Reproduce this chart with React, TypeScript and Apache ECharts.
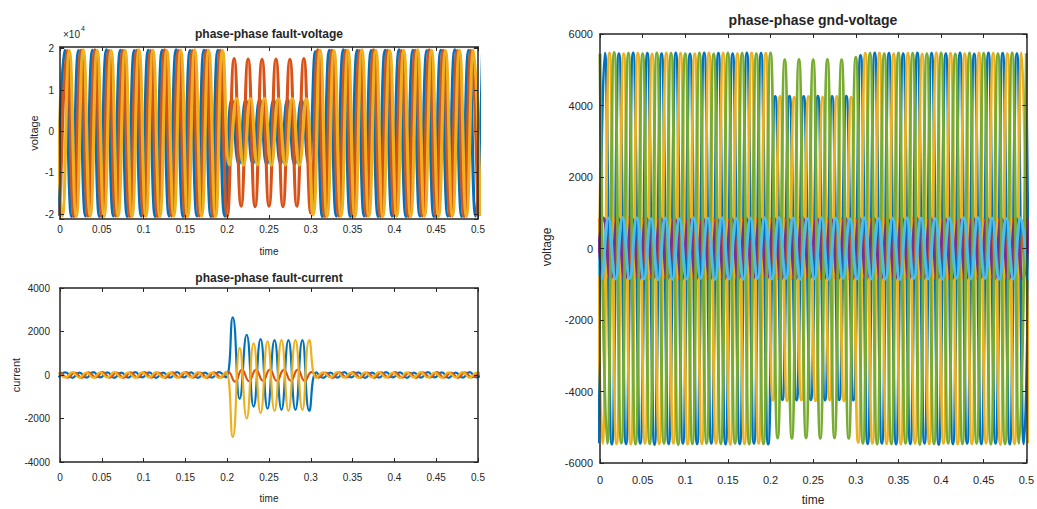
import React, { useEffect, useRef } from 'react';
import * as echarts from 'echarts';

// 60 Hz waveforms: successive peaks/troughs are half a period apart.
const PEAK_SPACING = 1 / 120;

const FONT = '"Liberation Sans", Arial, Helvetica, sans-serif';
const INK = '#262626';
const C = {
  blue: '#0072BD',
  orange: '#D95319',
  yellow: '#EDB120',
  purple: '#7E2F8E',
  green: '#77AC30',
  cyan: '#4DBEEE',
};

// ---- phase-phase fault-voltage (V), peak values per half cycle ----
const faultVoltageA_start = 0;
const faultVoltageA = [
  -20300, 19500, -20600, 19600, -20500, 19700, -20600, 19500, -20500, 19600, -20600, 19600,
  -20500, 19500, -20600, 19700, -20500, 19600, -20600, 19500, -20500, 19600, -20600, 19600,
  -20500,
  17600, -18100, 17500, -18200, 17400, -18100, 17500, -18200, 17400, -18100, 17600,
  -19800,
  19700, -20600, 19600, -20500, 19600, -20600, 19500, -20500, 19700, -20600, 19600, -20500,
  19500, -20600, 19600, -20500, 19700, -20600, 19600, -20500, 19500, -20600, 19600, -20500,
];
const faultVoltageB_start = -0.00278;
const faultVoltageB = [
  -20400, 19600, -20600, 19500, -20500, 19600, -20600, 19700, -20500, 19600, -20600, 19500,
  -20500, 19600, -20600, 19600, -20500, 19700, -20600, 19500, -20500, 19600, -20600, 19600,
  -20500,
  7600, -7900, 7500, -7800, 7600, -7900, 7500, -7800, 7600, -7900, 7500, -7800,
  19200, -20600, 19600, -20500, 19700, -20600, 19600, -20500, 19500, -20600, 19600, -20500,
  19700, -20600, 19600, -20500, 19500, -20600, 19600, -20500, 19700, -20600, 19600, -20500,
  19600,
];
const faultVoltageC_start = -0.00556;
const faultVoltageC = [
  19600, -20500, 19500, -20600, 19700, -20500, 19600, -20600, 19500, -20500, 19600, -20600,
  19700, -20500, 19600, -20600, 19500, -20500, 19600, -20600, 19700, -20500, 19600, -20600,
  19500,
  -8100, 8000, -8200, 7900, -8100, 8000, -8200, 7900, -8100, 8000, -8200, 7900,
  -20200, 19600, -20600, 19500, -20500, 19600, -20600, 19700, -20500, 19600, -20600, 19500,
  -20500, 19600, -20600, 19700, -20500, 19600, -20600, 19500, -20500, 19600, -20600, 19700,
  -20500,
];

// ---- phase-phase fault-current (A) ----
const faultCurrentB_start = -0.00173;
const faultCurrentB = [
  -110, 120, -130, 110, -120, 130, -110, 120, -130, 110, -120, 130,
  -110, 120, -130, 110, -120, 130, -110, 120, -130, 110, -120, 130,
  -110,
  2650, -1100, 1850, -1450, 1650, -1550, 1600, -1600, 1600, -1600, 1600, -1650,
  120, -130, 110, -120, 130, -110, 120, -130, 110, -120, 130, -110,
  120, -130, 110, -120, 130, -110, 120, -130, 110, -120, 130, -110,
  120,
];
const faultCurrentA_start = 0.001;
const faultCurrentA = [
  130, -120, 110, -130, 120, -110, 130, -120, 110, -130, 120, -110,
  130, -120, 110, -130, 120, -110, 130, -120, 110, -130, 120, -110,
  150,
  -300, 250, -280, 240, -260, 250, -270, 240, -260, 250, -270,
  130,
  -120, 110, -130, 120, -110, 130, -120, 110, -130, 120, -110, 130,
  -120, 110, -130, 120, -110, 130, -120, 110, -130, 120, -110, 130,
];
const faultCurrentC_start = -0.00173;
const faultCurrentC = [
  120, -110, 130, -120, 110, -130, 120, -110, 130, -120, 110, -130,
  120, -110, 130, -120, 110, -130, 120, -110, 130, -120, 110, -130,
  150,
  -2850, 1250, -2000, 1450, -1750, 1550, -1650, 1600, -1650, 1600, -1600, 1600,
  -130, 120, -110, 130, -120, 110, -130, 120, -110, 130, -120, 110,
  -130, 120, -110, 130, -120, 110, -130, 120, -110, 130, -120, 110,
  -130,
];

// ---- phase-phase gnd-voltage (V) ----
const gndVoltageA_start = 0;
const gndVoltageA = [
  5450, -5450, 5480, -5440, 5460, -5470, 5450, -5460, 5470, -5450, 5460, -5480,
  5450, -5460, 5470, -5450, 5440, -5460, 5470, -5450, 5460, -5470, 5450, -5460,
  5470,
  -5300, 5280, -5310, 5290, -5300, 5280, -5310, 5290, -5300, 5280, -5310,
  5350,
  -5450, 5460, -5470, 5450, -5460, 5470, -5450, 5460, -5480, 5450, -5460, 5470,
  -5450, 5440, -5460, 5470, -5450, 5460, -5470, 5450, -5460, 5470, -5450, 5460,
];
const gndVoltageB_start = -0.00278;
const gndVoltageB = [
  -5450, 5460, -5470, 5450, -5460, 5470, -5450, 5460, -5480, 5450, -5460, 5470,
  -5450, 5440, -5460, 5470, -5450, 5460, -5470, 5450, -5460, 5470, -5450, 5460,
  -5470,
  4250, -4230, 4260, -4240, 4250, -4230, 4260, -4240, 4250, -4230, 4260, -4240,
  5400, -5460, 5470, -5450, 5460, -5470, 5450, -5460, 5470, -5450, 5460, -5480,
  5450, -5460, 5470, -5450, 5440, -5460, 5470, -5450, 5460, -5470, 5450, -5460,
  5470,
];
const gndVoltageC_start = -0.00556;
const gndVoltageC = [
  5460, -5450, 5470, -5460, 5450, -5470, 5460, -5450, 5440, -5460, 5470, -5450,
  5460, -5470, 5450, -5460, 5470, -5450, 5460, -5480, 5450, -5460, 5470, -5450,
  5460,
  -4240, 4250, -4260, 4230, -4240, 4250, -4260, 4230, -4240, 4250, -4260, 4230,
  -5420, 5460, -5450, 5470, -5460, 5450, -5470, 5460, -5450, 5440, -5460, 5470,
  -5450, 5460, -5470, 5450, -5460, 5470, -5450, 5460, -5480, 5450, -5460, 5470,
  -5450,
];
const gndNeutralA_start = -0.0014;
const gndNeutralA = [
  850, -840, 860, -850, 870, -830, 850, -860, 840, -850, 860, -870, 850, -840, 830, -850,
  860, -850, 840, -860, 850, -870, 860, -840, 850, -850, 840, -860, 850, -830, 860, -850,
  870, -840, 850, -860, 840, -850, 860, -870, 850, -840, 830, -850, 860, -850, 840, -860,
  850, -870, 860, -840, 850, -850, 840, -860, 850, -830, 860, -850, 870, -840,
];
const gndNeutralB_start = -0.0042;
const gndNeutralB = [
  -860, 850, -840, 870, -850, 840, -860, 850, -830, 860, -850, 840, -870, 850, -860, 840,
  -850, 830, -860, 850, -840, 870, -850, 860, -840, 850, -860, 840, -850, 870, -830, 850,
  -860, 840, -850, 860, -870, 850, -840, 860, -850, 830, -860, 850, -840, 870, -850, 860,
  -840, 850, -860, 840, -850, 870, -830, 850, -860, 840, -850, 860, -870, 850,
];
const gndNeutralC_start = -0.0069;
const gndNeutralC = [
  840, -860, 850, -850, 870, -840, 860, -850, 840, -870, 850, -860, 830, -850, 860, -840,
  850, -870, 860, -850, 840, -860, 850, -830, 860, -850, 870, -840, 850, -860, 840, -850,
  860, -870, 850, -840, 830, -850, 860, -850, 840, -860, 850, -870, 860, -840, 850, -850,
  840, -860, 850, -830, 860, -850, 870, -840, 850, -860, 840, -850, 860, -870,
];

function peakSeries(start: number, values: number[]): [number, number][] {
  return values.map((v, k) => [start + k * PEAK_SPACING, v]);
}

function xAxes(gridIndex: number, fontSize: number, margin: number) {
  const common = {
    type: 'value',
    gridIndex,
    min: 0,
    max: 0.5,
    interval: 0.05,
    splitLine: { show: false },
    axisLine: { show: true, onZero: false, lineStyle: { color: INK, width: 1.5 } },
    axisTick: { show: true, inside: true, length: 4, lineStyle: { color: INK, width: 1 } },
    z: 10,
  };
  return [
    {
      ...common,
      position: 'bottom',
      axisLabel: { show: true, fontSize, color: INK, fontFamily: FONT, margin },
    },
    { ...common, position: 'top', axisLabel: { show: false } },
  ];
}

function yAxes(
  gridIndex: number,
  min: number,
  max: number,
  interval: number | undefined,
  fontSize: number,
  margin: number,
  formatter: (v: number) => string,
) {
  const common: any = {
    type: 'value',
    gridIndex,
    min,
    max,
    splitNumber: 4,
    splitLine: { show: false },
    axisLine: { show: true, onZero: false, lineStyle: { color: INK, width: 1.5 } },
    axisTick: { show: true, inside: true, length: 4, lineStyle: { color: INK, width: 1 } },
    z: 10,
  };
  if (interval !== undefined) common.interval = interval;
  return [
    {
      ...common,
      position: 'left',
      axisLabel: { show: true, fontSize, color: INK, fontFamily: FONT, margin, formatter },
    },
    { ...common, position: 'right', axisLabel: { show: false } },
  ];
}

function line(
  xAxisIndex: number,
  yAxisIndex: number,
  color: string,
  width: number,
  data: [number, number][],
) {
  return {
    type: 'line',
    xAxisIndex,
    yAxisIndex,
    data,
    smooth: true,
    symbol: 'none',
    showSymbol: false,
    silent: true,
    clip: true,
    lineStyle: { color, width },
    itemStyle: { color },
  };
}

function text(
  content: string,
  x: number,
  y: number,
  size: number,
  weight = 'normal',
  rotation = 0,
  align = 'center',
) {
  return {
    type: 'text',
    x,
    y,
    rotation,
    silent: true,
    style: {
      text: content,
      fill: INK,
      font: `${weight} ${size}px ${FONT}`,
      textAlign: align,
      align,
      textVerticalAlign: 'middle',
      verticalAlign: 'middle',
    },
  };
}

export default function App() {
  const ref = useRef<HTMLDivElement>(null);

  useEffect(() => {
    if (!ref.current) return;
    const chart = echarts.init(ref.current, undefined, { renderer: 'svg' });

    const option: any = {
      animation: false,
      backgroundColor: '#ffffff',
      grid: [
        { left: 60, top: 47, width: 418, height: 172 },
        { left: 60, top: 288, width: 418, height: 174 },
        { left: 600, top: 34, width: 427, height: 429 },
      ],
      xAxis: [...xAxes(0, 10, 5), ...xAxes(1, 10, 10), ...xAxes(2, 11, 11)],
      yAxis: [
        ...yAxes(0, -21200, 20400, undefined, 10, 6, (v: number) =>
          v % 10000 === 0 ? String(v / 10000) : '',
        ),
        ...yAxes(1, -4000, 4000, 2000, 10, 10, (v: number) => String(v)),
        ...yAxes(2, -6000, 6000, 2000, 11, 7, (v: number) => String(v)),
      ],
      series: [
        line(0, 0, C.blue, 3.2, peakSeries(faultVoltageB_start, faultVoltageB)),
        line(0, 0, C.orange, 3.2, peakSeries(faultVoltageA_start, faultVoltageA)),
        line(0, 0, C.yellow, 3.2, peakSeries(faultVoltageC_start, faultVoltageC)),

        line(2, 2, C.blue, 2.2, peakSeries(faultCurrentB_start, faultCurrentB)),
        line(2, 2, C.orange, 2.2, peakSeries(faultCurrentA_start, faultCurrentA)),
        line(2, 2, C.yellow, 2.2, peakSeries(faultCurrentC_start, faultCurrentC)),

        line(4, 4, C.blue, 3, peakSeries(gndVoltageB_start, gndVoltageB)),
        line(4, 4, C.orange, 3, peakSeries(gndNeutralA_start, gndNeutralA)),
        line(4, 4, C.yellow, 3, peakSeries(gndVoltageC_start, gndVoltageC)),
        line(4, 4, C.purple, 3, peakSeries(gndNeutralB_start, gndNeutralB)),
        line(4, 4, C.green, 3, peakSeries(gndVoltageA_start, gndVoltageA)),
        line(4, 4, C.cyan, 3, peakSeries(gndNeutralC_start, gndNeutralC)),
      ],
      graphic: [
        text('phase-phase fault-voltage', 269, 34, 12, 'bold'),
        text('×10', 63, 34, 10, 'normal', 0, 'left'),
        text('4', 81, 28, 7, 'normal', 0, 'left'),
        text('time', 269, 251, 10),
        text('voltage', 34, 133, 11, 'normal', Math.PI / 2),

        text('phase-phase fault-current', 269, 278, 12, 'bold'),
        text('time', 269, 498, 10),
        text('current', 16, 375, 11, 'normal', Math.PI / 2),

        text('phase-phase gnd-voltage', 813, 20, 14, 'bold'),
        text('time', 813, 500, 12),
        text('voltage', 547, 247, 12, 'normal', Math.PI / 2),
      ],
    };

    chart.setOption(option);
    return () => chart.dispose();
  }, []);

  return (
    <div
      ref={ref}
      style={{
        position: 'fixed',
        left: 0,
        top: 0,
        width: 1037,
        height: 509,
        background: '#ffffff',
      }}
    />
  );
}
